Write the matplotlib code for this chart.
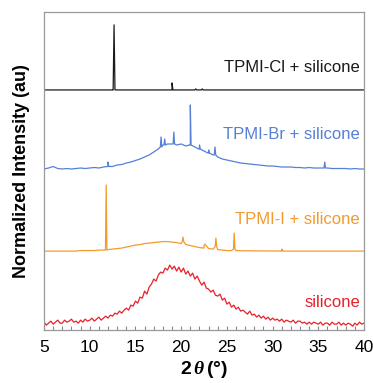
import numpy as np
import matplotlib
matplotlib.use('Agg')
import matplotlib.pyplot as plt
from matplotlib.ticker import MultipleLocator

plt.rcParams['font.family'] = ['Liberation Sans', 'DejaVu Sans']
plt.rcParams['mathtext.fontset'] = 'custom'
plt.rcParams['mathtext.it'] = 'Liberation Serif:italic:bold'

# ---- data (intensity in arbitrary stacked units) ----
# broad background humps, sampled on a regular 2theta grid
hump_x = np.arange(5.0, 40.01, 0.5)
blue_hump = [0, 1, 2.5, 0.5, 0, 0.5, 0, 0.5, 1, 0.5,
             1, 1.5, 1, 2, 2.5, 2.5, 4, 4.5, 6, 7,
             8.5, 10, 12, 14, 17, 20, 24, 25, 25, 24,
             25, 23, 24, 22, 20, 18, 16, 14, 12, 10,
             9, 8, 7, 6, 5.5, 5, 4.5, 4, 3.5, 3,
             3, 2.5, 2, 2, 2, 1.5, 1.5, 1, 1.5, 1,
             1, 1, 1, 0.5, 0.5, 0.5, 0.5, 0, 0.5, 0, 0]
orange_hump = [0, 0, 0, 0, 0, 0, 0, 0, 0.5, 0.5,
               0.5, 0.5, 1, 1, 1.5, 2, 2.5, 3, 4, 5,
               6, 6.5, 7.5, 8, 8.5, 9, 9.5, 9.5, 9, 8.5,
               7.5, 6.5, 5.5, 4.5, 3.5, 3, 2.5, 2, 1.5, 1,
               0.5, 0.5, 0.5, 0.3, 0.3, 0.3, 0.2, 0.2, 0.2, 0.1,
               0.1, 0.1, 0, 0, 0, 0, 0, 0, 0, 0,
               0, 0, 0, 0, 0, 0, 0, 0, 0, 0, 0]
black_hump = [0] * 71

# silicone: noisy amorphous halo sampled every 0.25 deg
red_x = np.arange(5.0, 40.01, 0.25)
red_y = [3, 0, 2, 4, 1, 3, 5, 2, 2, 5, 3, 4, 6, 3, 4, 2,
         5, 3, 6, 4, 5, 7, 4, 6, 8, 5, 7, 9, 7, 10, 9, 12,
         11, 14, 12, 15, 17, 15, 20, 19, 24, 22, 28, 27, 34, 31, 38, 41,
         46, 44, 50, 53, 52, 57, 55, 60, 56, 59, 54, 58, 53, 57, 51, 54,
         49, 52, 46, 49, 44, 40, 43, 37, 36, 33, 35, 30, 29, 31, 25, 27,
         21, 23, 18, 20, 16, 18, 14, 15, 13, 11, 14, 10, 11, 8, 10, 7,
         9, 6, 8, 5, 7, 5, 6, 4, 6, 3, 5, 4, 3, 5, 2, 4,
         4, 2, 3, 1, 3, 1, 3, 2, 1, 3, 0, 2, 2, 0, 3, 1,
         1, 3, 0, 2, 0, 2, 1, -1, 2, 0, 3, 1, 2]

# sharp reflections: position, top, base level under the peak
black_pk_x = [12.66, 19.0, 21.6, 22.3]
black_pk_top = [65, 7, 1, 1]
black_pk_base = [0, 0, 0, 0]

blue_pk_x = [12.0, 17.8, 18.2, 19.2, 21.0, 22.0, 23.0, 23.7, 35.7]
blue_pk_top = [7, 32, 30, 37, 64, 24, 19, 22, 7]
blue_pk_base = [2.5, 22, 24, 25, 24, 20, 16, 14, 1]

orange_pk_x = [11.8, 20.2, 22.6, 23.8, 25.8, 31.0]
orange_pk_top = [66, 14, 7, 13, 18, 2]
orange_pk_base = [1, 9.5, 6, 4.5, 2, 0.1]

offsets = [240, 161, 79, 5]
colors = ['#1a1a1a', '#5580d6', '#f39a2e', '#e8202a']
labels = ['TPMI-Cl + silicone', 'TPMI-Br + silicone', 'TPMI-I + silicone', 'silicone']
label_y = [262, 195, 111, 28]


def with_peaks(x, y, px, ptop, pbase, hw=0.08):
    xs = list(x)
    ys = list(y)
    for p, t, b in zip(px, ptop, pbase):
        xs += [p - hw, p, p + hw]
        ys += [b, t, b]
    order = np.argsort(xs, kind='stable')
    return np.array(xs)[order], np.array(ys)[order]


traces = [
    with_peaks(hump_x, black_hump, black_pk_x, black_pk_top, black_pk_base, 0.1),
    with_peaks(hump_x, blue_hump, blue_pk_x, blue_pk_top, blue_pk_base),
    with_peaks(hump_x, orange_hump, orange_pk_x, orange_pk_top, orange_pk_base),
    (red_x, np.array(red_y)),
]

fig = plt.figure(figsize=(3.73, 3.83), dpi=100)
ax = fig.add_axes([0.118, 0.138, 0.858, 0.831])

for (x, y), off, c, lab, ly in zip(traces, offsets, colors, labels, label_y):
    ax.plot(x, y + off, color=c, linewidth=0.9)
    ax.text(39.55, ly, lab, color=c, fontsize=12, ha='right', va='center')

ax.set_xlim(5, 40)
ax.set_ylim(0, 318)
ax.set_yticks([])
ax.xaxis.set_major_locator(MultipleLocator(5))
ax.xaxis.set_minor_locator(MultipleLocator(1))
ax.tick_params(axis='x', which='both', direction='in', length=3, width=0.8,
               color='#888888', labelsize=12.5, pad=7)
for s in ax.spines.values():
    s.set_color('#999999')
    s.set_linewidth(0.9)

ax.set_xlabel(r'2$\,\mathit{\theta}\,$(°)', fontsize=14, fontweight='bold', labelpad=3)
ax.set_ylabel('Normalized Intensity (au)', fontsize=13, fontweight='bold', labelpad=10)

plt.savefig('out.png', dpi=100)
